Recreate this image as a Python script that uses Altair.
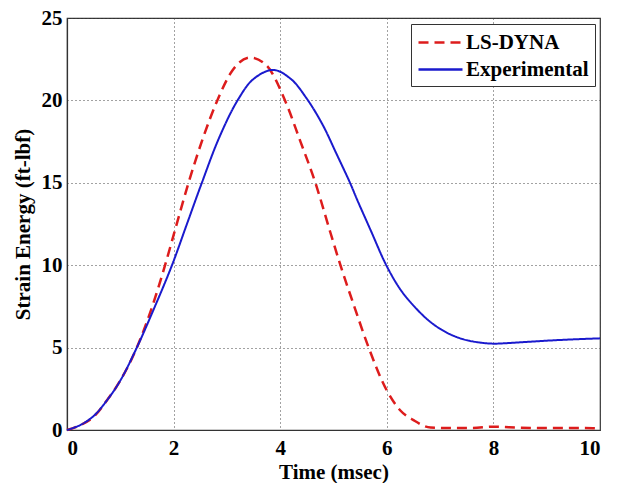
import altair as alt
import pandas as pd

# LS-DYNA (red dashed)
t_dyna = [0.0, 0.25, 0.5, 0.75, 1.0, 1.31, 1.6, 1.84, 2.05, 2.28, 2.55, 2.82, 3.1, 3.44, 3.75, 4.09, 4.38, 4.66, 4.94, 5.13, 5.4, 5.66, 6.0, 6.25, 6.5, 6.82, 7.2, 7.6, 8.0, 8.5, 9.0, 9.5, 10.0]
e_dyna = [0.0, 0.3, 0.8, 1.8, 3.0, 5.0, 7.5, 10.0, 12.4, 15.0, 17.7, 20.0, 21.8, 22.6, 22.1, 20.0, 17.5, 15.0, 12.0, 10.0, 7.4, 5.0, 2.4, 1.2, 0.6, 0.15, 0.12, 0.12, 0.2, 0.14, 0.12, 0.12, 0.1]

# Experimental (blue solid)
t_exp = [0.0, 0.25, 0.5, 0.75, 1.0, 1.31, 1.65, 1.97, 2.25, 2.53, 2.85, 3.2, 3.5, 3.87, 4.2, 4.5, 4.8, 5.05, 5.31, 5.44, 5.7, 5.99, 6.25, 6.5, 6.82, 7.13, 7.44, 7.76, 8.0, 8.4, 9.0, 9.5, 10.0]
e_exp = [0.0, 0.3, 0.85, 1.8, 3.0, 5.0, 7.5, 10.0, 12.5, 15.0, 17.7, 20.0, 21.3, 21.85, 21.3, 20.1, 18.5, 16.8, 15.0, 14.0, 12.1, 10.0, 8.55, 7.55, 6.55, 5.9, 5.5, 5.3, 5.24, 5.3, 5.42, 5.5, 5.56]

series_names = ["LS-DYNA", "Experimental"]
x_ticks = [0, 2, 4, 6, 8, 10]
y_ticks = [0, 5, 10, 15, 20, 25]

df = pd.concat([
    pd.DataFrame({"t": t_dyna, "e": e_dyna, "series": series_names[0]}),
    pd.DataFrame({"t": t_exp, "e": e_exp, "series": series_names[1]}),
])

FONT = "Liberation Serif"

color = alt.Color("series:N", title=None,
                  scale=alt.Scale(domain=series_names, range=["#dd1c1c", "#1a1acd"]),
                  legend=alt.Legend(orient="none", legendX=344, legendY=6,
                                    symbolType="M-1,0H3", symbolSize=484, symbolStrokeWidth=2.5,
                                    labelFont=FONT, labelFontSize=21, labelFontWeight="bold",
                                    labelColor="black", strokeColor="#333", fillColor="white",
                                    padding=6, rowPadding=4, labelOffset=24, labelLimit=300))
dash = alt.StrokeDash("series:N", title=None,
                      scale=alt.Scale(domain=series_names, range=[[10, 6], [1, 0]]))

base = alt.Chart(df).encode(
    x=alt.X("t:Q", title="Time (msec)",
            scale=alt.Scale(domain=[0, 10], nice=False),
            axis=alt.Axis(values=x_ticks)),
    y=alt.Y("e:Q", title="Strain Energy (ft-lbf)",
            scale=alt.Scale(domain=[0, 25], nice=False),
            axis=alt.Axis(values=y_ticks)),
    color=color,
    strokeDash=dash,
)

red = base.transform_filter(alt.datum.series == series_names[0]).mark_line(
    interpolate="monotone", strokeWidth=2.5)
blue = base.transform_filter(alt.datum.series == series_names[1]).mark_line(
    interpolate="catmull-rom", strokeWidth=2)

chart = alt.layer(red, blue).properties(
    width=533, height=412,
    autosize=alt.AutoSizeParams(type="none"),
    padding={"left": 67, "top": 18, "right": 21, "bottom": 53},
    background="white",
).configure_view(
    stroke="#333", strokeWidth=1.2
).configure_axis(
    labelFont=FONT, labelFontSize=21, labelFontWeight="bold", labelColor="black",
    titleFont=FONT, titleFontSize=21, titleFontWeight="bold", titleColor="black",
    domainColor="#333", domainWidth=1.2,
    tickSize=0, grid=True, gridDash=[1, 3], gridColor="#444", gridWidth=1, gridOpacity=1,
).configure_axisX(
    labelPadding=7, titlePadding=3
).configure_axisY(
    labelPadding=5, titlePadding=8
)

chart.save("out.html", embed_options={"renderer": "svg", "actions": False})
